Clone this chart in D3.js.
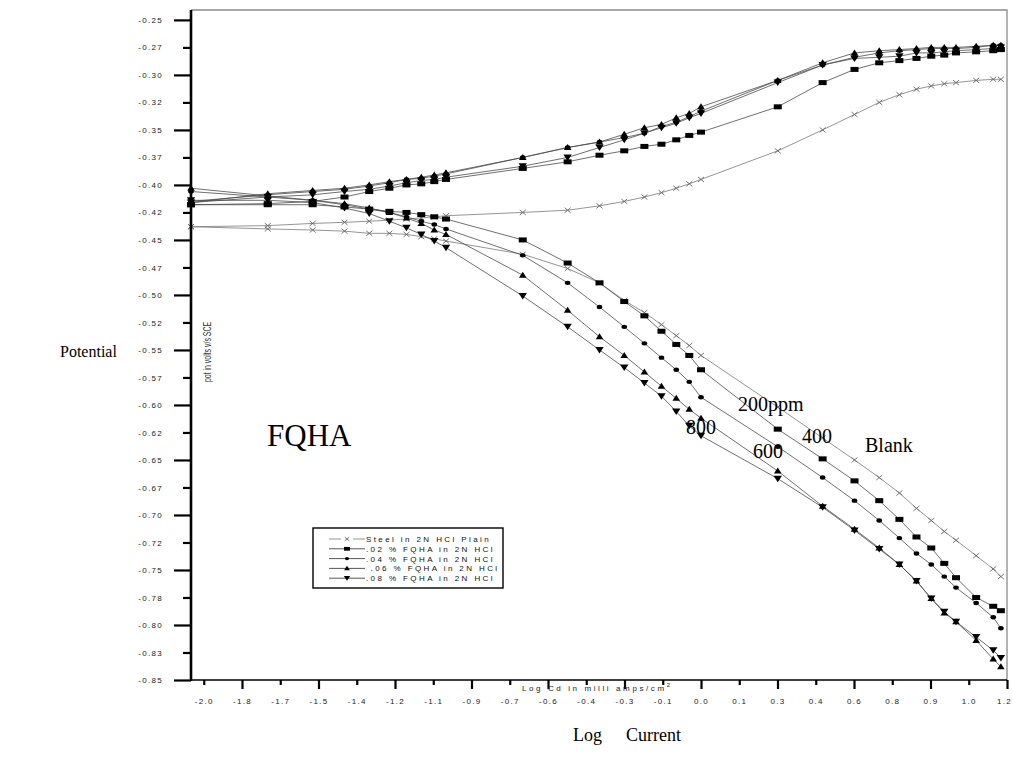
<!DOCTYPE html>
<html>
<head>
<meta charset="utf-8">
<script src="https://cdn.jsdelivr.net/npm/d3@7"></script>
<style>
  body { margin: 0; background: #fff; }
  svg { display: block; }
  text { white-space: pre; }
</style>
</head>
<body>
<svg id="chart" width="1013" height="776"></svg>
<script>
// ---------------- DATA ----------------
// log of applied current density (mA/cm2): 0.01 ... 0.1, 0.2 ... 1, 2 ... 10, 12, 14, 15
const logCurrent = [-2.0, -1.699, -1.523, -1.398, -1.301, -1.222, -1.155, -1.097, -1.046, -1.0,
  -0.699, -0.523, -0.398, -0.301, -0.222, -0.155, -0.097, -0.046, 0.0,
  0.301, 0.477, 0.602, 0.699, 0.778, 0.845, 0.903, 0.954, 1.0, 1.079, 1.146, 1.176];

const blankAnodic    = [-0.438,-0.437,-0.435,-0.434,-0.433,-0.432,-0.431,-0.430,-0.429,-0.428,-0.425,-0.423,-0.419,-0.415,-0.411,-0.407,-0.403,-0.399,-0.395,-0.369,-0.350,-0.336,-0.325,-0.318,-0.313,-0.310,-0.308,-0.307,-0.305,-0.304,-0.304];
const blankCathodic  = [-0.438,-0.440,-0.441,-0.442,-0.444,-0.444,-0.445,-0.447,-0.449,-0.451,-0.463,-0.476,-0.489,-0.505,-0.516,-0.527,-0.537,-0.546,-0.555,-0.602,-0.630,-0.650,-0.666,-0.680,-0.694,-0.705,-0.715,-0.723,-0.737,-0.749,-0.756];
const fqha02Anodic   = [-0.418,-0.417,-0.415,-0.411,-0.406,-0.403,-0.400,-0.399,-0.397,-0.395,-0.385,-0.379,-0.373,-0.369,-0.365,-0.363,-0.359,-0.355,-0.352,-0.329,-0.307,-0.295,-0.289,-0.287,-0.285,-0.283,-0.282,-0.280,-0.279,-0.278,-0.277];
const fqha02Cathodic = [-0.418,-0.418,-0.418,-0.420,-0.422,-0.424,-0.425,-0.427,-0.429,-0.431,-0.450,-0.471,-0.489,-0.506,-0.519,-0.533,-0.545,-0.555,-0.568,-0.622,-0.649,-0.669,-0.687,-0.704,-0.720,-0.730,-0.744,-0.757,-0.775,-0.783,-0.787];
const fqha04Anodic   = [-0.415,-0.409,-0.406,-0.404,-0.401,-0.398,-0.395,-0.394,-0.392,-0.390,-0.375,-0.366,-0.361,-0.357,-0.353,-0.347,-0.343,-0.338,-0.333,-0.305,-0.291,-0.284,-0.280,-0.278,-0.277,-0.276,-0.276,-0.276,-0.275,-0.273,-0.273];
const fqha04Cathodic = [-0.406,-0.411,-0.414,-0.418,-0.422,-0.425,-0.429,-0.433,-0.436,-0.440,-0.464,-0.489,-0.511,-0.529,-0.544,-0.557,-0.568,-0.579,-0.593,-0.638,-0.666,-0.687,-0.705,-0.721,-0.735,-0.745,-0.756,-0.766,-0.780,-0.793,-0.803];
const fqha06Anodic   = [-0.416,-0.408,-0.405,-0.403,-0.400,-0.397,-0.395,-0.393,-0.391,-0.389,-0.375,-0.366,-0.361,-0.354,-0.348,-0.345,-0.339,-0.335,-0.329,-0.305,-0.289,-0.280,-0.278,-0.277,-0.276,-0.275,-0.275,-0.275,-0.274,-0.273,-0.273];
const fqha06Cathodic = [-0.403,-0.410,-0.414,-0.417,-0.421,-0.425,-0.430,-0.435,-0.441,-0.445,-0.482,-0.514,-0.538,-0.555,-0.570,-0.583,-0.594,-0.604,-0.612,-0.660,-0.692,-0.713,-0.730,-0.745,-0.760,-0.776,-0.789,-0.797,-0.814,-0.831,-0.838];
const fqha08Anodic   = [-0.416,-0.411,-0.409,-0.406,-0.404,-0.401,-0.398,-0.396,-0.395,-0.393,-0.383,-0.375,-0.366,-0.359,-0.353,-0.348,-0.344,-0.339,-0.335,-0.307,-0.291,-0.285,-0.284,-0.283,-0.280,-0.280,-0.279,-0.278,-0.277,-0.276,-0.275];
const fqha08Cathodic = [-0.414,-0.414,-0.416,-0.421,-0.426,-0.433,-0.439,-0.445,-0.451,-0.457,-0.501,-0.529,-0.550,-0.566,-0.580,-0.592,-0.606,-0.619,-0.628,-0.667,-0.693,-0.714,-0.731,-0.745,-0.760,-0.776,-0.788,-0.797,-0.811,-0.823,-0.830];

const seriesNames = ["Steel in 2N HCl Plain", ".02 % FQHA in 2N HCl", ".04 % FQHA in 2N HCl", " .06 % FQHA in 2N HCl", ".08 % FQHA in 2N HCl"];
const seriesMarkers = ["cross", "square", "circle", "triangle", "down"];

const yTickValues = [-0.25,-0.275,-0.30,-0.325,-0.35,-0.375,-0.40,-0.425,-0.45,-0.475,-0.50,-0.525,-0.55,-0.575,-0.60,-0.625,-0.65,-0.675,-0.70,-0.725,-0.75,-0.775,-0.80,-0.825,-0.85];
const yTickLabels = ["-0.25","-0.27","-0.30","-0.32","-0.35","-0.37","-0.40","-0.42","-0.45","-0.47","-0.50","-0.52","-0.55","-0.57","-0.60","-0.62","-0.65","-0.67","-0.70","-0.72","-0.75","-0.78","-0.80","-0.83","-0.85"];
const xTickValues = [-1.95,-1.80,-1.65,-1.50,-1.35,-1.20,-1.05,-0.90,-0.75,-0.60,-0.45,-0.30,-0.15,0.0,0.15,0.30,0.45,0.60,0.75,0.90,1.05,1.20];
const xTickLabels = ["-2.0","-1.8","-1.7","-1.5","-1.4","-1.2","-1.1","-0.9","-0.7","-0.6","-0.4","-0.3","-0.1","0.0","0.1","0.3","0.4","0.6","0.8","0.9","1.0","1.2"];

const annotationTexts = ["200ppm", "400", "Blank", "600", "800"];

// ---------------- CHART ----------------
const series = [
  { name: seriesNames[0], marker: seriesMarkers[0], anodic: blankAnodic,  cathodic: blankCathodic,  stroke: "#7a7a7a" },
  { name: seriesNames[1], marker: seriesMarkers[1], anodic: fqha02Anodic, cathodic: fqha02Cathodic, stroke: "#4a4a4a" },
  { name: seriesNames[2], marker: seriesMarkers[2], anodic: fqha04Anodic, cathodic: fqha04Cathodic, stroke: "#4a4a4a" },
  { name: seriesNames[3], marker: seriesMarkers[3], anodic: fqha06Anodic, cathodic: fqha06Cathodic, stroke: "#4a4a4a" },
  { name: seriesNames[4], marker: seriesMarkers[4], anodic: fqha08Anodic, cathodic: fqha08Cathodic, stroke: "#4a4a4a" }
];

const svg = d3.select("#chart");
const x = d3.scaleLinear().domain([-2.0, 1.2]).range([191, 1007]);
const y = d3.scaleLinear().domain([-0.85, -0.241]).range([680, 10]);

const smallFont = "'Liberation Sans', Arial, sans-serif";
const serif = "'Liberation Serif', 'Times New Roman', serif";

function drawMarker(g, type, cx, cy, k) {
  k = k || 1;
  if (type === "cross") {
    g.append("path")
      .attr("d", `M${cx-3*k},${cy-2.5*k}L${cx+3*k},${cy+2.5*k}M${cx-3*k},${cy+2.5*k}L${cx+3*k},${cy-2.5*k}`)
      .attr("stroke", "#666").attr("stroke-width", 0.9).attr("fill", "none");
  } else if (type === "square") {
    g.append("rect").attr("x", cx-4*k).attr("y", cy-2.5*k).attr("width", 8*k).attr("height", 5*k).attr("fill", "#000");
  } else if (type === "circle") {
    g.append("ellipse").attr("cx", cx).attr("cy", cy).attr("rx", 2.8*k).attr("ry", 2.2*k).attr("fill", "#000");
  } else if (type === "triangle") {
    g.append("path").attr("d", `M${cx},${cy-3.5*k}L${cx+3.8*k},${cy+2.5*k}L${cx-3.8*k},${cy+2.5*k}Z`).attr("fill", "#000");
  } else if (type === "down") {
    g.append("path").attr("d", `M${cx-4.2*k},${cy-3*k}L${cx+4.2*k},${cy-3*k}L${cx},${cy+3.5*k}Z`).attr("fill", "#000");
  }
}

const line = d3.line().x((d, i) => x(logCurrent[i])).y(d => y(d));

// lines
const linesG = svg.append("g");
series.forEach(s => {
  [s.anodic, s.cathodic].forEach(branch => {
    linesG.append("path").datum(branch).attr("d", line)
      .attr("fill", "none").attr("stroke", s.stroke).attr("stroke-width", 0.8);
  });
});
// markers
const markG = svg.append("g");
series.forEach(s => {
  [s.anodic, s.cathodic].forEach(branch => {
    branch.forEach((v, i) => drawMarker(markG, s.marker, x(logCurrent[i]), y(v)));
  });
});

// frame (top/right)
svg.append("path").attr("d", `M${x(-2.0)},${y(-0.241)}H${x(1.2)}V${y(-0.85)}`)
  .attr("fill", "none").attr("stroke", "#8a8a8a").attr("stroke-width", 1.3);

// Y axis
const yMajor = yTickValues.filter((d, i) => i % 2 === 0);
const yMinor = yTickValues.filter((d, i) => i % 2 === 1);
const yLab = v => yTickLabels[yTickValues.indexOf(v)];
const yAxMaj = svg.append("g").attr("transform", `translate(${x(-2.0)},0)`)
  .call(d3.axisLeft(y).tickValues(yMajor).tickSize(17).tickPadding(11).tickFormat(yLab));
const yAxMin = svg.append("g").attr("transform", `translate(${x(-2.0)},0)`)
  .call(d3.axisLeft(y).tickValues(yMinor).tickSize(8).tickPadding(20).tickFormat(yLab));

// X axis
const xMajor = xTickValues.filter((d, i) => i % 2 === 1);
const xMinor = xTickValues.filter((d, i) => i % 2 === 0);
const xLab = v => xTickLabels[xTickValues.indexOf(v)];
const xAxMaj = svg.append("g").attr("transform", `translate(0,${y(-0.85)})`)
  .call(d3.axisBottom(x).tickValues(xMajor).tickSize(9).tickPadding(9).tickFormat(xLab));
const xAxMin = svg.append("g").attr("transform", `translate(0,${y(-0.85)})`)
  .call(d3.axisBottom(x).tickValues(xMinor).tickSize(5).tickPadding(13).tickFormat(xLab));

[yAxMaj, yAxMin, xAxMaj, xAxMin].forEach(g => {
  g.select(".domain").remove();
  g.selectAll(".tick line").attr("stroke", "#000").attr("stroke-width", 2.2);
  g.selectAll(".tick text").attr("fill", "#222").style("font-family", smallFont)
    .style("font-size", "8px").style("letter-spacing", "1.3px");
});
// keep the last x label inside the picture
xAxMaj.selectAll(".tick text").filter(d => d === 1.2).attr("dx", -3);

// axis lines
svg.append("line").attr("x1", x(-2.0)).attr("x2", x(1.2)).attr("y1", y(-0.85)).attr("y2", y(-0.85))
  .attr("stroke", "#000").attr("stroke-width", 1.6);
svg.append("line").attr("x1", x(-2.0)).attr("x2", x(-2.0)).attr("y1", y(-0.241)).attr("y2", y(-0.85) + 1)
  .attr("stroke", "#000").attr("stroke-width", 2.6);

// axis inner label
const xl = svg.append("text").attr("x", 522).attr("y", 691)
  .style("font-family", smallFont).style("font-size", "8px").style("letter-spacing", "2.6px").attr("fill", "#222");
xl.append("tspan").text("Log Cd in milli amps/cm");
xl.append("tspan").attr("dy", -4).style("font-size", "6px").text("2");

svg.append("text").attr("transform", "translate(211,352) rotate(-90)").attr("text-anchor", "middle")
  .style("font-family", smallFont).style("font-size", "10px")
  .attr("textLength", 60).attr("lengthAdjust", "spacingAndGlyphs")
  .attr("fill", "#333").text("pot in volts v/s SCE");

// outer titles
svg.append("text").attr("x", 60).attr("y", 357).style("font-family", serif).style("font-size", "16px")
  .attr("fill", "#000").text("Potential");
const lc = svg.append("text").attr("y", 741).style("font-family", serif).style("font-size", "18px").attr("fill", "#000");
lc.append("tspan").attr("x", 573).text("Log");
lc.append("tspan").attr("x", 626).text("Current");

svg.append("text").attr("x", 267).attr("y", 446).style("font-family", serif).style("font-size", "31px")
  .attr("fill", "#000").text("FQHA");

// annotations
const annPos = [[738, 411], [802, 443], [865, 452], [753, 458], [686, 434]];
annotationTexts.forEach((t, i) => {
  svg.append("text").attr("x", annPos[i][0]).attr("y", annPos[i][1]).style("font-family", serif)
    .style("font-size", "20px").attr("fill", "#000").text(t);
});

// legend
const lg = svg.append("g");
lg.append("rect").attr("x", 313).attr("y", 528).attr("width", 190).attr("height", 60)
  .attr("fill", "#fff").attr("stroke", "#000").attr("stroke-width", 1.4);
series.forEach((s, i) => {
  const ry = 539 + i * 9.8;
  lg.append("line").attr("x1", 329).attr("x2", 365).attr("y1", ry).attr("y2", ry)
    .attr("stroke", s.marker === "cross" ? "#888" : "#444").attr("stroke-width", 0.9);
  if (s.marker === "cross") {
    lg.append("rect").attr("x", 341).attr("y", ry - 3).attr("width", 12).attr("height", 6).attr("fill", "#fff");
  }
  drawMarker(lg, s.marker, 347, ry, 0.75);
  lg.append("text").attr("x", 366).attr("y", ry + 3).style("font-family", smallFont).style("font-size", "8px")
    .style("letter-spacing", "2.4px").attr("fill", "#111").text(s.name);
});
</script>
</body>
</html>
